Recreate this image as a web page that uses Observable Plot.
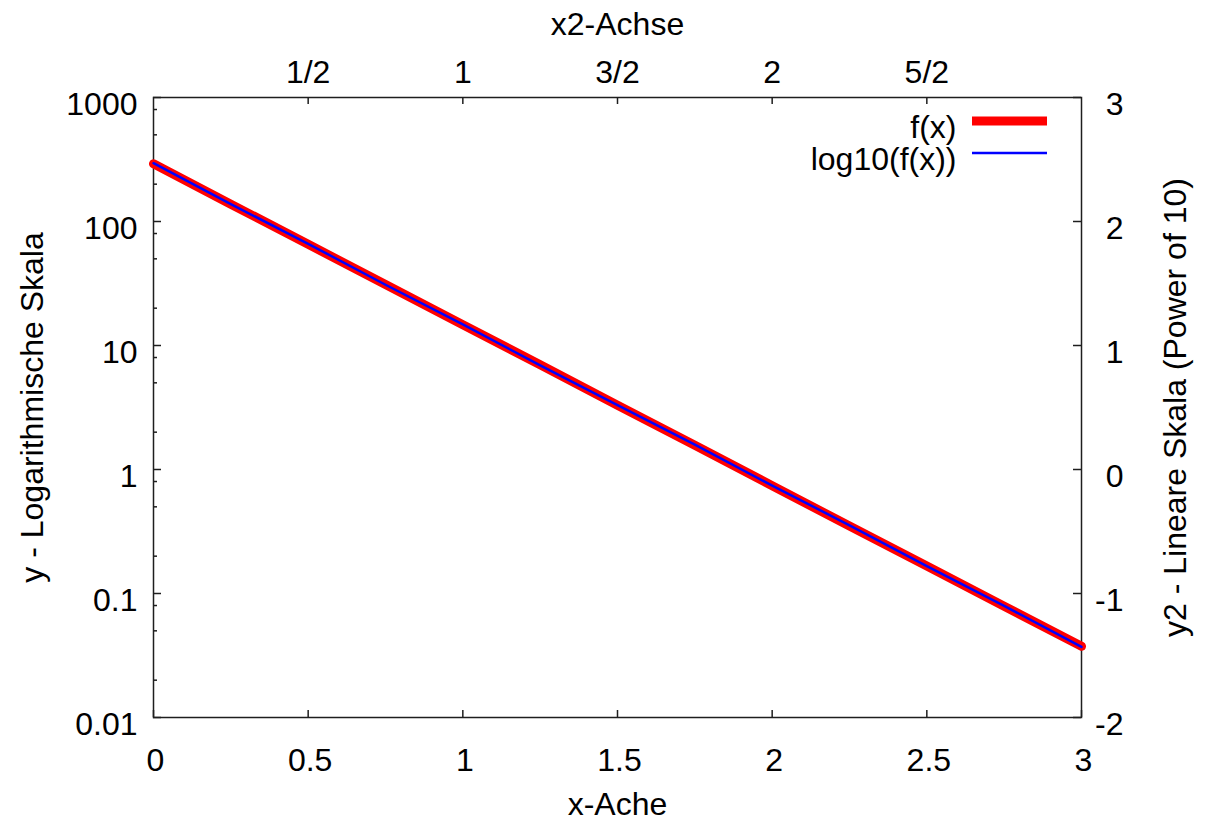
<!DOCTYPE html>
<html>
<head>
<meta charset="utf-8">
<script src="https://cdn.jsdelivr.net/npm/d3@7"></script>
<script src="https://cdn.jsdelivr.net/npm/@observablehq/plot@0.6"></script>
<style>
  html, body { margin: 0; padding: 0; background: #ffffff; }
  svg { display: block; }
</style>
</head>
<body>
<div id="chart"></div>
<script>
// ---- data ----
const xValues = [0, 0.25, 0.5, 0.75, 1, 1.25, 1.5, 1.75, 2, 2.25, 2.5, 2.75, 3];
const fValues = [292, 138, 65.5, 31, 14.7, 7.0, 3.3, 1.57, 0.74, 0.35, 0.167, 0.079, 0.0375];
const log10Values = [2.47, 2.14, 1.82, 1.49, 1.17, 0.84, 0.52, 0.2, -0.13, -0.45, -0.78, -1.1, -1.43];

const seriesNames = ["f(x)", "log10(f(x))"];
const seriesColors = ["#ff0000", "#0000ff"];

const xTicks = [0, 0.5, 1, 1.5, 2, 2.5, 3];
const xTickLabels = ["0", "0.5", "1", "1.5", "2", "2.5", "3"];
const x2Ticks = [0.5, 1, 1.5, 2, 2.5];
const x2TickLabels = ["1/2", "1", "3/2", "2", "5/2"];
const yTicks = [0.01, 0.1, 1, 10, 100, 1000];
const yTickLabels = ["0.01", "0.1", "1", "10", "100", "1000"];
const yMinorTicks = [0.02, 0.05, 0.08, 0.2, 0.5, 0.8, 2, 5, 8, 20, 50, 80, 200, 500, 800];
const y2Ticks = [-2, -1, 0, 1, 2, 3];
const y2TickLabels = ["-2", "-1", "0", "1", "2", "3"];

const xTitle = "x-Ache";
const x2Title = "x2-Achse";
const yTitle = "y - Logarithmische Skala";
const y2Title = "y2 - Lineare Skala (Power of 10)";

// ---- layout ----
const W = 1207, H = 823, ML = 153, MR = 126, MT = 97, MB = 106;
const FW = W - ML - MR, FH = H - MT - MB;
const FONT = "'Liberation Sans', Arial, Helvetica, sans-serif";
const FS = 32;
const INK = "#1e1e1e";

const fTable = xValues.map((x, i) => ({x, y: fValues[i]}));
const gTable = xValues.map((x, i) => ({x, v: log10Values[i]}));
// y2 is the power of ten of y: a y2 value v sits where y = 10^v
const toY = (v) => Math.pow(10, v);

const legendLines = (index, scales, values, dims) => {
  const g = d3.create("svg:g");
  const xr = dims.width - dims.marginRight - 34;
  seriesNames.forEach((name, i) => {
    const yy = dims.marginTop + 24 + 32 * i;
    g.append("line")
      .attr("x1", xr - 75).attr("x2", xr)
      .attr("y1", yy).attr("y2", yy)
      .attr("stroke", seriesColors[i])
      .attr("stroke-width", i === 0 ? 9 : 2.5);
  });
  return g.node();
};

const T = {fontSize: FS, lineAnchor: "middle"};

const chart = Plot.plot({
  width: W, height: H,
  marginLeft: ML, marginRight: MR, marginTop: MT, marginBottom: MB,
  style: {fontFamily: FONT, fontSize: FS + "px", background: "#ffffff", color: "#000000"},
  x: {domain: [0, 3], axis: null},
  y: {type: "log", domain: [0.01, 1000], axis: null},
  marks: [
    Plot.frame({stroke: INK, strokeWidth: 1.5}),
    // inward ticks (gnuplot style)
    Plot.tickY(yTicks, {y: d => d, stroke: INK, strokeWidth: 1.5, insetRight: FW - 8}),
    Plot.tickY(yMinorTicks, {y: d => d, stroke: INK, strokeWidth: 1.5, insetRight: FW - 4}),
    Plot.tickY(y2Ticks, {y: d => toY(d), stroke: INK, strokeWidth: 1.5, insetLeft: FW - 8}),
    Plot.tickX(xTicks, {x: d => d, stroke: INK, strokeWidth: 1.5, insetTop: FH - 7}),
    Plot.tickX(x2Ticks, {x: d => d, stroke: INK, strokeWidth: 1.5, insetBottom: FH - 7}),
    // tick labels
    Plot.text(yTicks, {...T, y: d => d, text: (d, i) => yTickLabels[i], frameAnchor: "left", textAnchor: "end", dx: -16, dy: 7}),
    Plot.text(y2Ticks, {...T, y: d => toY(d), text: (d, i) => y2TickLabels[i], frameAnchor: "right", textAnchor: "end", dx: 42, dy: 7}),
    Plot.text(xTicks, {...T, x: d => d, text: (d, i) => xTickLabels[i], frameAnchor: "bottom", textAnchor: "middle", dx: 2, dy: 43}),
    Plot.text(x2Ticks, {...T, x: d => d, text: (d, i) => x2TickLabels[i], frameAnchor: "top", textAnchor: "middle", dy: -25}),
    // axis titles
    Plot.text([xTitle], {...T, frameAnchor: "bottom", textAnchor: "middle", dy: 87}),
    Plot.text([x2Title], {...T, frameAnchor: "top", textAnchor: "middle", dy: -73}),
    Plot.text([yTitle], {...T, frameAnchor: "left", textAnchor: "middle", dx: -121, rotate: -90}),
    Plot.text([y2Title], {...T, frameAnchor: "right", textAnchor: "middle", dx: 94, rotate: -90}),
    // series
    Plot.line(fTable, {x: "x", y: "y", stroke: seriesColors[0], strokeWidth: 9}),
    Plot.line(gTable, {x: "x", y: d => toY(d.v), stroke: seriesColors[1], strokeWidth: 2.5}),
    // legend
    Plot.text([seriesNames[0]], {...T, frameAnchor: "top-right", textAnchor: "end", dx: -125, dy: 30}),
    Plot.text([seriesNames[1]], {...T, frameAnchor: "top-right", textAnchor: "end", dx: -125, dy: 62}),
    legendLines
  ]
});
document.getElementById("chart").appendChild(chart);
</script>
</body>
</html>
